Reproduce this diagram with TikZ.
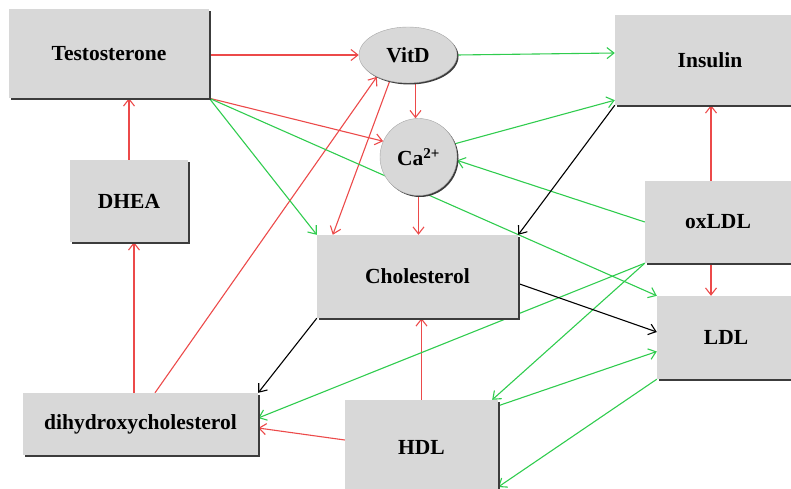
\documentclass[tikz,border=0pt]{standalone}
\usepackage{fontspec}
\setmainfont{Liberation Serif}
\usetikzlibrary{arrows.meta,calc,shadows,shapes.geometric,backgrounds}
\definecolor{boxgray}{RGB}{216,216,216}
\definecolor{arrred}{RGB}{236,74,74}
\definecolor{arrgreen}{RGB}{48,204,78}
\definecolor{shadowgray}{RGB}{60,60,60}

\begin{document}
\begin{tikzpicture}[x=1pt,y=-1pt,
  labelfont/.style={font=\fontsize{21.5}{24}\selectfont\bfseries},
  box/.style={rectangle, fill=boxgray, inner sep=0pt, labelfont,
    drop shadow={shadow xshift=2pt, shadow yshift=-2pt, fill=shadowgray, opacity=1}},
  oval/.style={ellipse, fill=boxgray, draw=gray!70, line width=0.4pt, inner sep=0pt, labelfont,
    drop shadow={shadow xshift=1.5pt, shadow yshift=-1.5pt, fill=shadowgray, opacity=1}},
  ball/.style={circle, fill=boxgray, draw=gray!70, line width=0.4pt, inner sep=0pt, labelfont,
    drop shadow={shadow xshift=1.5pt, shadow yshift=-1.5pt, fill=shadowgray, opacity=1}},
  link/.style={line width=1.1pt, -{Straight Barb[length=7pt,width=11pt]}},
  up/.style={link, draw=arrred},
  down/.style={link, draw=arrgreen},
  plain/.style={link, draw=black}]

\path[clip] (0,0) rectangle (791,489);

% molecules and hormones
\node[box, minimum width=200pt, minimum height=89pt] (testo) at (109,53.5) {Testosterone};
\node[box, minimum width=118pt, minimum height=82pt] (dhea) at (129,201) {DHEA};
\node[box, minimum width=235pt, minimum height=62pt] (dihy) at (140.5,424) {dihydroxycholesterol};
\node[box, minimum width=201pt, minimum height=83pt] (chol) at (417.5,276.5) {Cholesterol};
\node[box, minimum width=153pt, minimum height=94pt] (hdl) at (421.5,447) {HDL};
\node[box, minimum width=190pt, minimum height=90pt] (ins) at (710,60) {Insulin};
\node[box, minimum width=146pt, minimum height=82pt] (ox) at (718,222) {oxLDL};
\node[box, minimum width=138pt, minimum height=83pt] (ldl) at (726,337.5) {LDL};
\node[oval, minimum width=98pt, minimum height=56pt] (vitd) at (408,55) {VitD};
\node[ball, minimum size=77pt] (ca) at (418.5,157) {Ca\textsuperscript{2+}};

% helper points on the borders
\coordinate (dh1) at ($(dihy.north)+(-6.5,0)$);
\coordinate (dh2) at ($(dihy.north)+(14.5,0)$);
\coordinate (ca1) at ($(ca.north)+(-3,0)$);
\coordinate (ox1) at ($(ox.north)+(-7,0)$);
\coordinate (ox2) at ($(ox.south)+(-7,0)$);

\begin{scope}[on background layer]
  % stimulating links
  \draw[up] (testo.east |- vitd.west) -- (vitd.west);
  \draw[up] (testo.south east) -- (ca.156);
  \draw[up] (dhea.north) -- (dhea.north |- testo.south);
  \draw[up] (dh1) -- (dh1 |- dhea.south);
  \draw[up] (dh2) -- (vitd.215);
  \draw[up] (vitd.235) -- ($(chol.north west)+(16,0)$);
  \draw[up] (ca1 |- vitd.south) -- (ca1);
  \draw[up] (ca.south) -- (ca.south |- chol.north);
  \draw[up] (hdl.north) -- (hdl.north |- chol.south);
  \draw[up] ($(hdl.west)+(0,-7)$) -- ($(dihy.east)+(0,4)$);
  \draw[up] (ox1) -- (ox1 |- ins.south);
  \draw[up] (ox2) -- (ox2 |- ldl.north);

  % inhibiting links
  \draw[down] (testo.south east) -- (chol.north west);
  \draw[down] (testo.south east) -- (ldl.north west);
  \draw[down] (vitd.east) -- ($(ins.west)+(0,-7)$);
  \draw[down] (ca.20) -- ($(ins.south west)+(0,-5)$);
  \draw[down] (ox.west) -- (ca.-5);
  \draw[down] (ox.south west) -- ($(dihy.east)+(0,-6)$);
  \draw[down] (ox.south west) -- ($(hdl.north east)+(-6,0)$);
  \draw[down] ($(hdl.north east)+(0,6)$) -- ($(ldl.west)+(0,14)$);
  \draw[down] (ldl.south west) -- ($(hdl.east)+(0,40)$);

  % other links
  \draw[plain] (ins.south west) -- (chol.north east);
  \draw[plain] ($(chol.east)+(0,7)$) -- ($(ldl.west)+(0,-5.5)$);
  \draw[plain] (chol.south west) -- (dihy.north east);
\end{scope}
\end{tikzpicture}
\end{document}
